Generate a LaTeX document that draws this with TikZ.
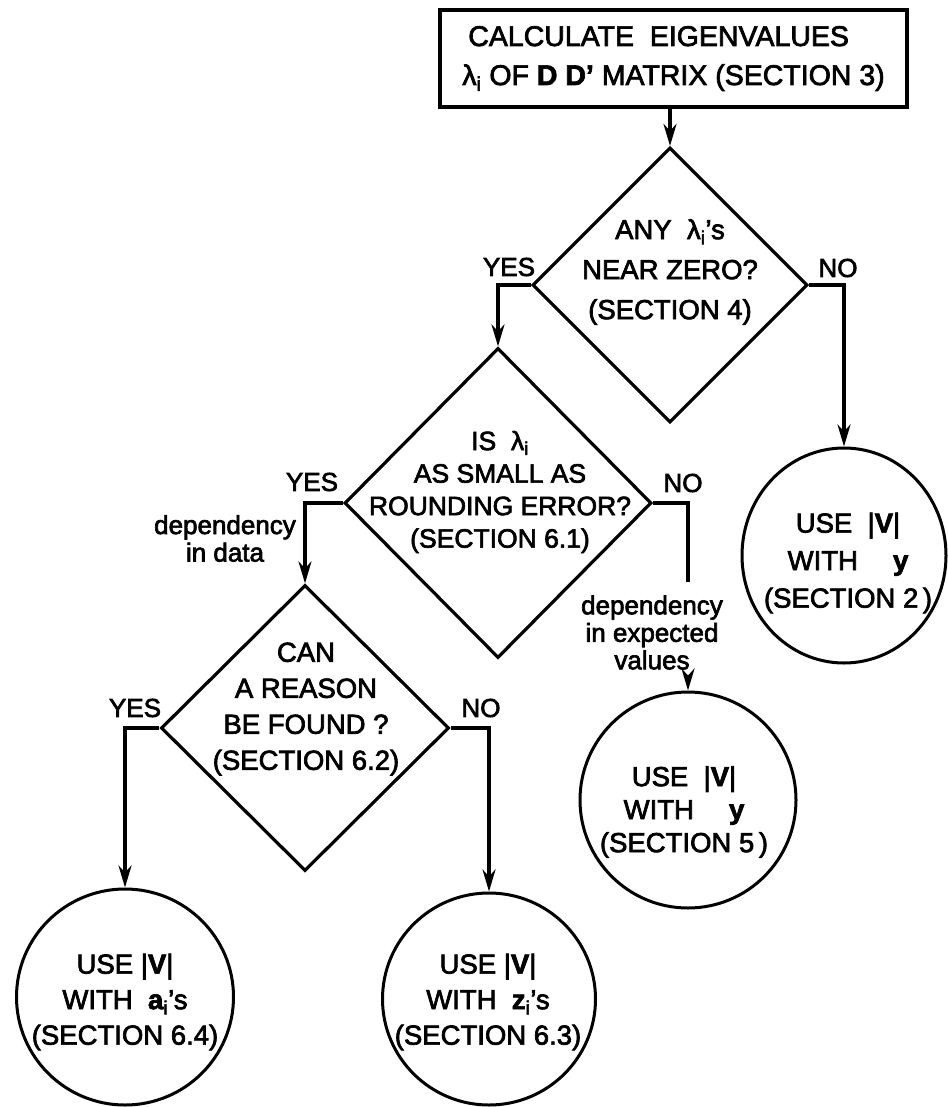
\documentclass[tikz,border=0pt]{standalone}
\usepackage{fontspec}
\setmainfont[FakeBold=2.5]{Liberation Sans}
\usetikzlibrary{shapes.geometric,arrows.meta}
\begin{document}
\begin{tikzpicture}[x=1pt,y=-1pt,
  ln/.style={line width=3.2pt},
  flow/.style={ln, -{Stealth[length=22pt,width=13pt,inset=7pt]}},
  shp/.style={draw, line width=3.2pt, inner sep=0pt},
  dia/.style={shp, diamond},
  oval/.style={shp, ellipse, line width=3pt},
  txt/.style={align=center, inner sep=0pt, font=\fontsize{27}{36}\selectfont},
  lbl/.style={inner sep=0pt, font=\fontsize{26}{30}\selectfont},
  note/.style={align=center, inner sep=0pt, font=\fontsize{26}{27.5}\selectfont}
]
\useasboundingbox (0,0) rectangle (947,1107);
% start box
\node[shp, rectangle, minimum width=467pt, minimum height=97pt, align=left,
      font=\fontsize{28.5}{39}\selectfont] (box) at (673.5,58.5)
  {\hspace{6pt}CALCULATE\ \ EIGENVALUES\\λ\textsubscript{i} OF \textbf{D D'} MATRIX (SECTION 3)};
% decisions
\node[dia, minimum width=275pt, minimum height=275pt] (d1) at (670,285) {};
\node[dia, minimum width=307pt, minimum height=310pt] (d2) at (498,503) {};
\node[dia, minimum width=288pt, minimum height=286pt] (d3) at (305,728) {};
% terminals
\node[oval, minimum width=204pt, minimum height=215pt] (c2) at (844,555.5) {};
\node[oval, minimum width=216pt, minimum height=216pt] (c5) at (688,800) {};
\node[oval, minimum width=217pt, minimum height=216pt] (c64) at (125,997) {};
\node[oval, minimum width=213pt, minimum height=212pt] (c63) at (489,999) {};
% texts
\node[txt, font=\fontsize{27.5}{40}\selectfont] (t1) at (670,272)
  {ANY\ \ λ\textsubscript{i}'s\\NEAR ZERO?\\(SECTION 4)};
\node[txt, font=\fontsize{26.5}{32.5}\selectfont] (t2) at (500,492)
  {IS\ \ λ\textsubscript{i}\\AS SMALL AS\\ROUNDING ERROR?\\(SECTION 6.1)};
\node[txt, font=\fontsize{27.5}{36}\selectfont] (t3) at (306,709)
  {CAN\\A REASON\\BE FOUND ?\\(SECTION 6.2)};
\node[txt, font=\fontsize{27.5}{37.5}\selectfont] (t4) at (848,563)
  {USE\ \ |\textbf{V}|\\WITH\quad\ \textbf{y}\\(SECTION 2\,)};
\node[txt, font=\fontsize{27.5}{33}\selectfont] (t5) at (684,812)
  {USE\ \ |\textbf{V}|\\WITH\quad\ \textbf{y}\\(SECTION 5\,)};
\node[txt, font=\fontsize{27.5}{35.5}\selectfont] (t6) at (125,1002)
  {USE |\textbf{V}|\\WITH\ \ \textbf{a}\textsubscript{i}'s\\(SECTION 6.4)};
\node[txt, font=\fontsize{27.5}{35.5}\selectfont] (t7) at (488,1002)
  {USE |\textbf{V}|\\WITH\ \ \textbf{z}\textsubscript{i}'s\\(SECTION 6.3)};
% branch labels
\node[lbl] (y1) at (509,267) {YES};
\node[lbl] (n1) at (838,268) {NO};
\node[lbl] (y2) at (312,482) {YES};
\node[lbl] (n2) at (683,483) {NO};
\node[lbl] (y3) at (135,708) {YES};
\node[lbl] (n3) at (481,708) {NO};
\node[note] (dd) at (225,538.5) {dependency\\in data};
\node[note] (de) at (652,632.5) {dependency\\in expected\\values};
% connectors
\coordinate (nEnd) at (688,582);
\coordinate (vStart) at (688,677);
\draw[flow] (box.south -| d1.north) -- (d1.north);
\draw[flow] (d1.west) -| (d2.north);
\draw[flow] (d1.east) -| (c2.north);
\draw[flow] (d2.west) -| (d3.north);
\draw[ln] (d2.east) -| (nEnd);
\draw[flow] (vStart) -- (c5.north);
\draw[flow] (d3.west) -| (c64.north);
\draw[flow] (d3.east) -| (c63.north);
\end{tikzpicture}
\end{document}
